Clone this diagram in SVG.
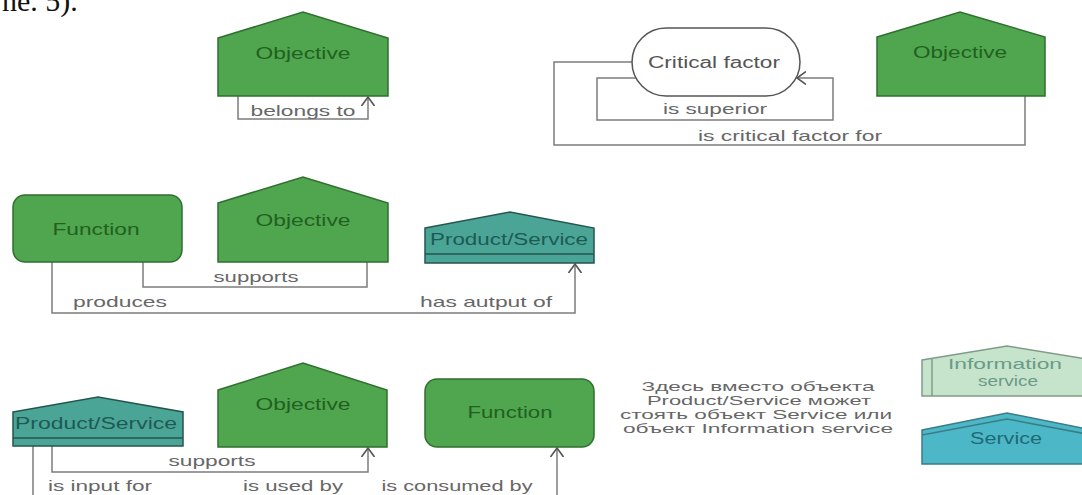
<svg xmlns="http://www.w3.org/2000/svg" width="1082" height="495" viewBox="0 0 1082 495">
  <style>
    text { font-family: "Liberation Sans", Arial, sans-serif; }
    .obj { fill: #4fa64f; stroke: #2f6f2f; stroke-width: 1.5; }
    .fn { fill: #4fa64f; stroke: #2f6f2f; stroke-width: 1.5; }
    .ps { fill: #4ba597; stroke: #24564f; stroke-width: 1.5; }
    .ps-line { stroke: #24564f; stroke-width: 1.5; fill: none; }
    .cf { fill: #ffffff; stroke: #555555; stroke-width: 1.5; }
    .info { fill: #c6e4cb; stroke: #7f9c88; stroke-width: 1.5; }
    .svc { fill: #4cb7c6; stroke: #3a7d86; stroke-width: 1.5; }
    .svc-line { fill: none; stroke: #3a7d86; stroke-width: 1.5; }
    .g-label { font-size: 16px; fill: #23601f; text-anchor: middle; }
    .t-label { font-size: 16px; fill: #1e5a54; text-anchor: middle; }
    .c-label { font-size: 16px; fill: #555555; text-anchor: middle; }
    .rel { font-size: 15px; fill: #676767; text-anchor: middle; }
    .note { font-size: 13.5px; fill: #666666; text-anchor: middle; }
    .info-label { font-size: 15px; fill: #6a9a88; text-anchor: middle; }
    .svc-label { font-size: 16px; fill: #1f6a74; text-anchor: middle; }
    .link { fill: none; stroke: #7c7c7c; stroke-width: 1.5; }
    .arrow { marker-end: url(#open); }
  </style>
  <defs>
    <marker id="open" markerUnits="userSpaceOnUse" viewBox="0 0 10 14" refX="9" refY="7" markerWidth="10" markerHeight="14" orient="auto">
      <path d="M0,0.5 L9,7 L0,13.5" fill="none" stroke="#555555" stroke-width="1.6"/>
    </marker>
  </defs>

  <rect width="1082" height="495" fill="#ffffff"/>

  <!-- running text cut at the top edge -->
  <text x="2" y="11" style="font-family: 'Liberation Serif', 'Times New Roman', serif; font-size: 30px; fill: #111111;">ne. 5).</text>

  <!-- connectors -->
  <g id="connectors">
    <path class="link arrow" d="M238,96 V119 H368 V97"/>
    <path class="link arrow" d="M636,78 H597 V120 H833 V78 H797"/>
    <path class="link" d="M632,62 H554 V145 H1025 V96"/>
    <path class="link" d="M143,262 V287 H367 V262"/>
    <path class="link arrow" d="M52,262 V313 H575 V264"/>
    <path class="link arrow" d="M52,446 V472 H368 V448"/>
    <path class="link" d="M33,446 V500"/>
    <path class="link arrow" d="M557,500 V448"/>

    <text class="rel" x="303" y="116" textLength="105" lengthAdjust="spacingAndGlyphs">belongs to</text>
    <text class="rel" x="715" y="114" textLength="104" lengthAdjust="spacingAndGlyphs">is superior</text>
    <text class="rel" x="790" y="141" textLength="184" lengthAdjust="spacingAndGlyphs">is critical factor for</text>
    <text class="rel" x="256" y="282" textLength="85" lengthAdjust="spacingAndGlyphs">supports</text>
    <text class="rel" x="120" y="307" textLength="94" lengthAdjust="spacingAndGlyphs">produces</text>
    <text class="rel" x="486" y="307" textLength="132" lengthAdjust="spacingAndGlyphs">has autput of</text>
    <text class="rel" x="212" y="466" textLength="87" lengthAdjust="spacingAndGlyphs">supports</text>
    <text class="rel" x="100" y="491" textLength="104" lengthAdjust="spacingAndGlyphs">is input for</text>
    <text class="rel" x="293" y="491" textLength="100" lengthAdjust="spacingAndGlyphs">is used by</text>
    <text class="rel" x="457" y="491" textLength="151" lengthAdjust="spacingAndGlyphs">is consumed by</text>
  </g>

  <!-- first row -->
  <g id="objective-1">
    <polygon class="obj" points="218,38 303,12 388,38 388,96 218,96"/>
    <text class="g-label" x="303" y="59" textLength="95" lengthAdjust="spacingAndGlyphs">Objective</text>
  </g>
  <g id="critical-factor">
    <rect class="cf" x="632" y="28" width="168" height="68" rx="34"/>
    <text class="c-label" x="714" y="68" textLength="132" lengthAdjust="spacingAndGlyphs">Critical factor</text>
  </g>
  <g id="objective-2">
    <polygon class="obj" points="877,37 960,12 1045,37 1045,96 877,96"/>
    <text class="g-label" x="960" y="58" textLength="94" lengthAdjust="spacingAndGlyphs">Objective</text>
  </g>

  <!-- second row -->
  <g id="function-1">
    <rect class="fn" x="13" y="195" width="169" height="67" rx="12"/>
    <text class="g-label" x="96" y="235" textLength="87" lengthAdjust="spacingAndGlyphs">Function</text>
  </g>
  <g id="objective-3">
    <polygon class="obj" points="218,203 303,177 388,203 388,262 218,262"/>
    <text class="g-label" x="303" y="226" textLength="95" lengthAdjust="spacingAndGlyphs">Objective</text>
  </g>
  <g id="product-service-1">
    <polygon class="ps" points="425,228 510,212 594,228 594,263 425,263"/>
    <line class="ps-line" x1="425" y1="254" x2="594" y2="254"/>
    <text class="t-label" x="509" y="245" textLength="158" lengthAdjust="spacingAndGlyphs">Product/Service</text>
  </g>

  <!-- third row -->
  <g id="product-service-2">
    <polygon class="ps" points="13,412 98,397 183,412 183,446 13,446"/>
    <line class="ps-line" x1="13" y1="438" x2="183" y2="438"/>
    <text class="t-label" x="96" y="429" textLength="162" lengthAdjust="spacingAndGlyphs">Product/Service</text>
  </g>
  <g id="objective-4">
    <polygon class="obj" points="218,390 303,363 387,390 387,447 218,447"/>
    <text class="g-label" x="303" y="410" textLength="95" lengthAdjust="spacingAndGlyphs">Objective</text>
  </g>
  <g id="function-2">
    <rect class="fn" x="425" y="379" width="169" height="68" rx="12"/>
    <text class="g-label" x="510" y="418" textLength="85" lengthAdjust="spacingAndGlyphs">Function</text>
  </g>

  <!-- note -->
  <g id="note">
    <text class="note" x="758" y="391" textLength="233" lengthAdjust="spacingAndGlyphs">Здесь вместо объекта</text>
    <text class="note" x="759" y="405" textLength="224" lengthAdjust="spacingAndGlyphs">Product/Service может</text>
    <text class="note" x="756" y="419" textLength="272" lengthAdjust="spacingAndGlyphs">стоять объект Service или</text>
    <text class="note" x="758" y="433" textLength="270" lengthAdjust="spacingAndGlyphs">объект Information service</text>
  </g>

  <!-- alternative objects -->
  <g id="information-service">
    <polygon class="info" points="922,360 1007,346 1092,360 1092,396 922,396"/>
    <line class="info" x1="932" y1="358.5" x2="932" y2="396"/>
    <text class="info-label" x="1005" y="369" textLength="114" lengthAdjust="spacingAndGlyphs">Information</text>
    <text class="info-label" x="1008" y="386" textLength="60" lengthAdjust="spacingAndGlyphs">service</text>
  </g>
  <g id="service">
    <polygon class="svc" points="922,430 1007,413 1092,430 1092,464 922,464"/>
    <polyline class="svc-line" points="922,435 1007,419 1092,435"/>
    <text class="svc-label" x="1006" y="444" textLength="72" lengthAdjust="spacingAndGlyphs">Service</text>
  </g>
</svg>
